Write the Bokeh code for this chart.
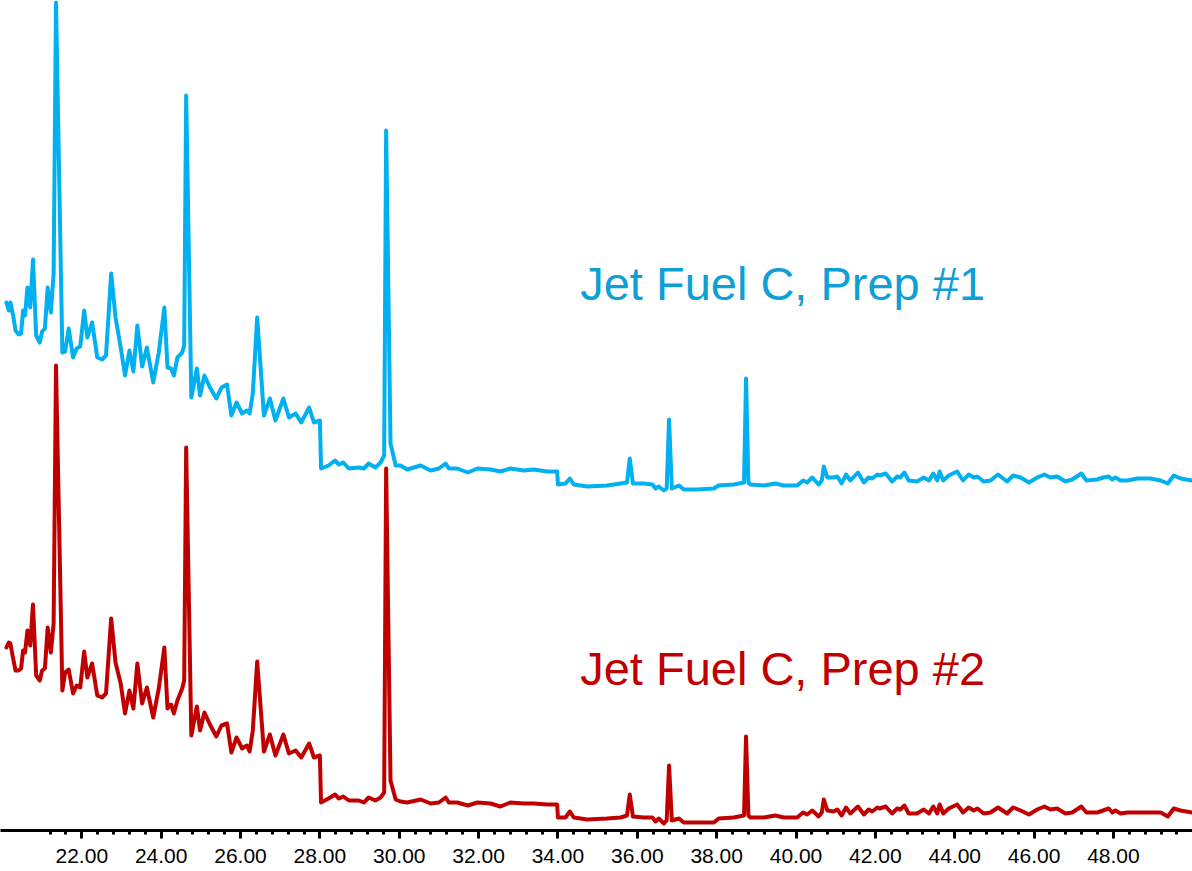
import numpy as np
from bokeh.plotting import figure
from bokeh.models import Range1d, FixedTicker, Label, NumeralTickFormatter
from bokeh.embed import file_html
from bokeh.resources import INLINE

# Retention time (minutes)
retention_time = [
    20.10, 20.16, 20.20, 20.27, 20.33, 20.41, 20.47, 20.52, 20.57, 20.63,
    20.70, 20.77, 20.85, 20.94, 21.00, 21.07, 21.14, 21.22, 21.29, 21.35,
    21.51, 21.58, 21.67, 21.78, 21.87, 21.96, 22.06, 22.14, 22.26, 22.39,
    22.51, 22.61, 22.74, 22.85, 22.98, 23.09, 23.20, 23.30, 23.40, 23.52,
    23.64, 23.80, 23.94, 24.08, 24.16, 24.25, 24.32, 24.41, 24.53, 24.58,
    24.63, 24.76, 24.90, 24.98, 25.09, 25.23, 25.39, 25.52, 25.66, 25.77,
    25.90, 26.04, 26.16, 26.23, 26.31, 26.42, 26.59, 26.74, 26.88, 27.08,
    27.22, 27.39, 27.53, 27.73, 27.85, 28.00, 28.03, 28.22, 28.38, 28.48,
    28.59, 28.73, 28.98, 29.11, 29.23, 29.40, 29.53, 29.62, 29.67, 29.78,
    29.91, 30.03, 30.20, 30.54, 30.79, 31.00, 31.17, 31.25, 31.46, 31.73,
    31.97, 32.30, 32.55, 32.80, 33.14, 33.39, 33.73, 33.98, 34.00, 34.19,
    34.30, 34.40, 34.74, 35.24, 35.58, 35.74, 35.81, 35.89, 36.16, 36.38,
    36.46, 36.54, 36.67, 36.74, 36.80, 36.87, 37.05, 37.17, 37.51, 37.93,
    38.05, 38.43, 38.69, 38.74, 38.80, 38.85, 39.19, 39.48, 39.69, 40.03,
    40.18, 40.28, 40.41, 40.57, 40.65, 40.70, 40.79, 40.95, 41.04, 41.15,
    41.26, 41.37, 41.56, 41.71, 41.83, 41.92, 42.05, 42.11, 42.26, 42.42,
    42.55, 42.63, 42.73, 42.84, 43.05, 43.22, 43.35, 43.46, 43.56, 43.62,
    43.71, 43.85, 44.06, 44.21, 44.35, 44.48, 44.57, 44.73, 44.90, 45.09,
    45.32, 45.47, 45.66, 45.87, 46.08, 46.26, 46.41, 46.58, 46.79, 46.96,
    47.19, 47.32, 47.59, 47.74, 47.88, 47.97, 48.05, 48.18, 48.35, 48.60,
    48.93, 49.19, 49.37, 49.52, 49.69, 49.99,
]

# Jet Fuel C, Prep #1 (relative abundance, arbitrary units)
prep1_signal = [
    195, 187, 195, 182, 167, 163, 164, 187, 182, 210,
    190, 238, 162, 155, 166, 169, 210, 185, 224, 495,
    145, 146, 169, 140, 149, 151, 187, 160, 175, 140,
    138, 142, 224, 180, 150, 122, 147, 126, 172, 131,
    150, 115, 145, 190, 130, 129, 122, 140, 145, 152,
    402, 100, 129, 102, 122, 110, 99, 110, 113, 82,
    95, 84, 87, 84, 104, 180, 82, 99, 77, 99,
    80, 84, 75, 90, 75, 77, 29, 32, 37, 33,
    35, 29, 30, 29, 34, 30, 35, 42, 367, 54,
    32, 32, 28, 32, 27, 29, 34, 29, 29, 25,
    29, 28, 26, 29, 27, 28, 26, 26, 13, 14,
    19, 13, 11, 12, 14, 15, 39, 14, 14, 13,
    9, 11, 7, 9, 78, 9, 12, 8, 8, 9,
    12, 13, 15, 119, 15, 13, 12, 14, 12, 12,
    17, 15, 20, 13, 17, 31, 20, 20, 21, 14,
    23, 17, 25, 15, 20, 19, 23, 22, 24, 16,
    21, 20, 25, 17, 16, 20, 17, 24, 17, 26,
    17, 22, 26, 17, 23, 20, 21, 16, 17, 23,
    16, 22, 20, 15, 20, 23, 20, 21, 16, 18,
    24, 17, 18, 20, 21, 18, 20, 17, 17, 19,
    19, 17, 14, 22, 19, 17,
]

# Jet Fuel C, Prep #2 (relative abundance, arbitrary units)
prep2_signal = [
    183, 188, 187, 172, 160, 160, 162, 180, 178, 200,
    185, 226, 155, 150, 160, 162, 203, 178, 207, 465,
    140, 158, 161, 137, 145, 143, 179, 153, 167, 135,
    133, 137, 212, 168, 147, 117, 140, 122, 167, 127,
    143, 113, 142, 183, 122, 126, 117, 130, 142, 150,
    383, 95, 124, 100, 118, 106, 94, 105, 107, 78,
    93, 82, 85, 79, 100, 169, 79, 96, 75, 96,
    77, 80, 73, 87, 73, 75, 28, 32, 36, 32,
    34, 30, 30, 28, 33, 30, 33, 38, 362, 50,
    31, 29, 28, 31, 27, 28, 33, 28, 28, 25,
    28, 27, 24, 28, 27, 27, 26, 26, 13, 13,
    19, 13, 11, 12, 13, 15, 36, 14, 13, 13,
    9, 12, 7, 10, 65, 10, 12, 8, 8, 8,
    12, 13, 15, 94, 15, 13, 13, 15, 13, 13,
    18, 16, 20, 14, 18, 31, 20, 19, 21, 15,
    23, 17, 24, 16, 21, 19, 23, 22, 24, 17,
    22, 21, 25, 17, 17, 21, 17, 24, 17, 26,
    17, 22, 26, 18, 23, 20, 22, 17, 18, 23,
    17, 23, 20, 16, 21, 24, 21, 22, 17, 18,
    24, 18, 18, 20, 22, 18, 20, 17, 18, 18,
    18, 18, 14, 22, 20, 18,
]

series_names = ["Jet Fuel C, Prep #1", "Jet Fuel C, Prep #2"]
major_ticks = [22, 24, 26, 28, 30, 32, 34, 36, 38, 40, 42, 44, 46, 48]

# display stacking offset for the upper trace
PREP1_OFFSET = 333

BLUE = "#00B0F0"
BLUE_TEXT = "#0E9FD6"
RED = "#C00000"

p = figure(
    width=1192, height=871,
    x_range=Range1d(19.951, 49.992), y_range=Range1d(0, 830),
    output_backend="svg", toolbar_location=None,
    y_axis_location=None,
    min_border_left=0, min_border_right=0, min_border_top=0, min_border_bottom=41,
)
p.outline_line_color = None
p.grid.visible = False
p.background_fill_color = "white"
p.border_fill_color = "white"

p.line(retention_time, [v + PREP1_OFFSET for v in prep1_signal],
       line_color=BLUE, line_width=4, line_join="round", line_cap="round")
p.line(retention_time, prep2_signal,
       line_color=RED, line_width=4, line_join="round", line_cap="round")

minor = []
for m in np.arange(21.2, 49.9, 0.4):
    m = round(float(m), 1)
    if abs(m / 2 - round(m / 2)) > 1e-6:
        minor.append(m)

ax = p.xaxis[0]
ax.ticker = FixedTicker(ticks=major_ticks, minor_ticks=minor)
ax.formatter = NumeralTickFormatter(format="0.00")
ax.axis_line_width = 3
ax.axis_line_color = "black"
ax.major_tick_line_width = 3
ax.minor_tick_line_width = 3
ax.major_tick_line_color = "black"
ax.minor_tick_line_color = "black"
ax.major_tick_in = 0
ax.minor_tick_in = 0
ax.major_tick_out = 8
ax.minor_tick_out = 4
ax.major_label_text_font = "Liberation Sans"
ax.major_label_text_font_size = "21px"
ax.major_label_text_color = "black"
ax.major_label_standoff = 10

p.add_layout(Label(x=34.56, y=547, text=series_names[0], text_font="Liberation Sans",
                   text_font_size="47px", text_color=BLUE_TEXT, text_baseline="alphabetic"))
p.add_layout(Label(x=34.56, y=162, text=series_names[1], text_font="Liberation Sans",
                   text_font_size="47px", text_color=RED, text_baseline="alphabetic"))

open("out.html", "w").write(file_html(p, INLINE))
